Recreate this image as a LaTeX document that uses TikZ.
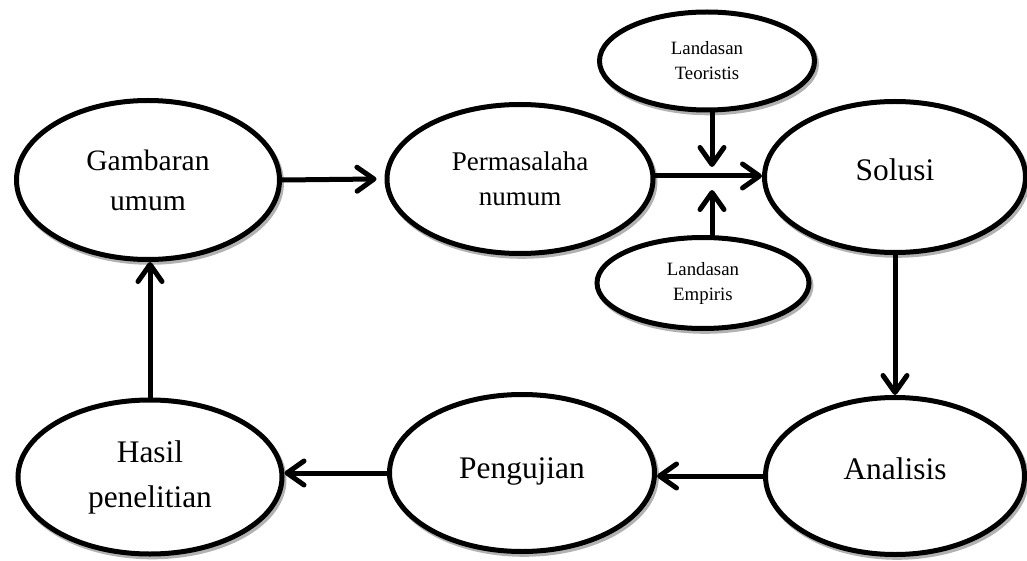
\documentclass[tikz,border=0pt]{standalone}
\usepackage{fontspec}
\setmainfont{Liberation Serif}
\usetikzlibrary{arrows.meta,shapes.geometric,shadows}

\tikzset{
  bulat/.style={ellipse, draw=black, line width=2.5pt, fill=white, align=center,
    drop shadow={shadow xshift=1pt, shadow yshift=-1.4pt, fill=black!30,
      draw=black!30, line width=2.5pt, opacity=1}},
  besar/.style={font=\fontsize{15.7}{22.5}\selectfont},
  kecil/.style={font=\fontsize{9.4}{12.5}\selectfont},
  panah/.style={line width=2.5pt, line cap=round,
    -{Straight Barb[length=8.5pt,width=12pt,round]}},
}

\begin{document}
\begin{tikzpicture}[x=0.5pt,y=-0.5pt]
\useasboundingbox (0,0) rectangle (1027,561);
% baris atas
\node[bulat, minimum width=131.5pt, minimum height=79.5pt,
  font=\fontsize{14.8}{20}\selectfont] (gambaran) at (148,180) {Gambaran\\umum};
\node[bulat, minimum width=133pt, minimum height=74.5pt,
  font=\fontsize{13.5}{17.5}\selectfont] (masalah) at (520,179) {Permasalaha\\numum};
\node[bulat, besar, minimum width=130.5pt, minimum height=75.5pt] (solusi) at (895,177) {\raisebox{7pt}{Solusi}};
\node[bulat, kecil, minimum width=107.5pt, minimum height=49pt] (teoritis) at (707,61) {Landasan\\Teoristis};
\node[bulat, kecil, minimum width=106pt, minimum height=45.5pt] (empiris) at (703,283) {Landasan\\Empiris};
% baris bawah
\node[bulat, besar, minimum width=132pt, minimum height=77pt] (hasil) at (150,477) {Hasil\\penelitian};
\node[bulat, besar, minimum width=132.5pt, minimum height=78.5pt] (pengujian) at (522,473) {\raisebox{5pt}{Pengujian}};
\node[bulat, besar, minimum width=129.5pt, minimum height=78.5pt] (analisis) at (895,476) {\raisebox{7pt}{Analisis}};

\coordinate (temu) at (712,176);
\coordinate (atas) at (712,167);
\coordinate (bawah) at (712,190);

% panah
\draw[panah] (gambaran.east) -- ([xshift=-4pt]masalah.west);
\draw[panah] (masalah.east |- temu) -- (solusi.west |- temu);
\draw[panah] (teoritis.south -| atas) -- (atas);
\draw[panah] (empiris.north -| bawah) -- (bawah);
\draw[panah] (solusi.south) -- (analisis.north);
\draw[panah] (analisis.west) -- (analisis.west -| pengujian.east);
\draw[panah] (pengujian.west) -- (pengujian.west -| hasil.east);
\draw[panah] (hasil.north) -- (hasil.north |- gambaran.south);
\end{tikzpicture}
\end{document}
